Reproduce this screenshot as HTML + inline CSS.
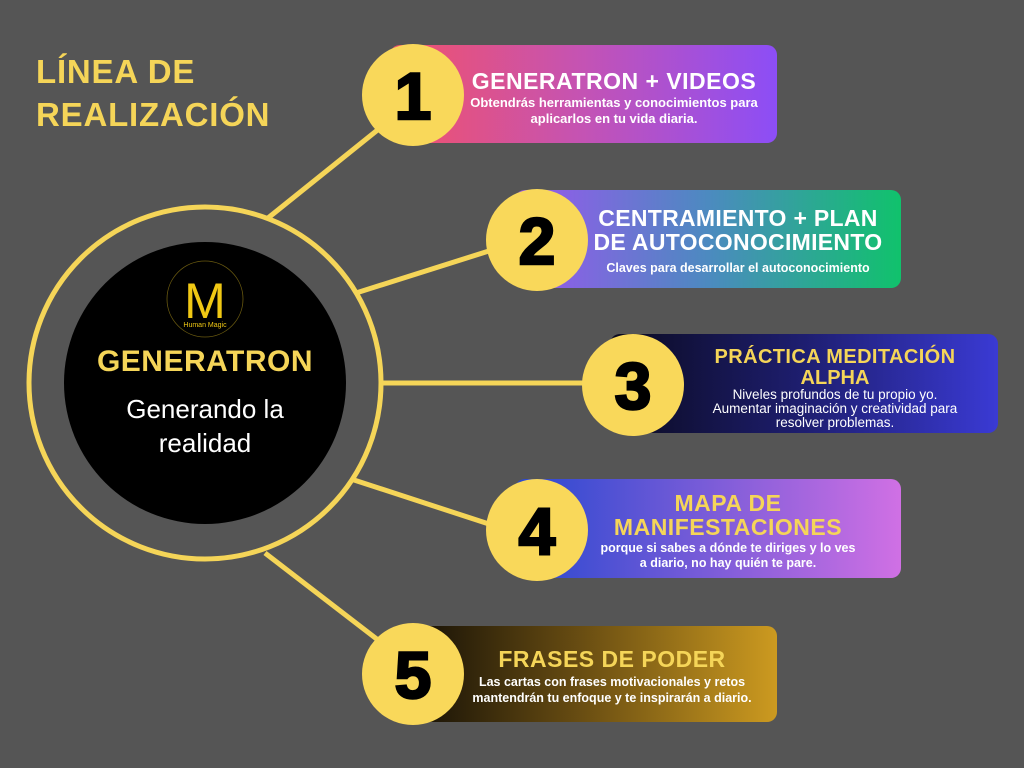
<!DOCTYPE html>
<html><head><meta charset="utf-8"><style>
html,body{margin:0;padding:0;background:#555555;}
svg{display:block;}
text{font-family:"Liberation Sans",sans-serif;}
</style></head><body>
<svg width="1024" height="768" viewBox="0 0 1024 768" xmlns="http://www.w3.org/2000/svg">
<defs>
<linearGradient id="g1" x1="0" x2="1"><stop offset="0" stop-color="#f2526a"/><stop offset="0.5" stop-color="#c453b4"/><stop offset="1" stop-color="#8c4ef6"/></linearGradient>
<linearGradient id="g2" x1="0" x2="1"><stop offset="0" stop-color="#9b55ef"/><stop offset="0.5" stop-color="#4c8ac0"/><stop offset="1" stop-color="#10c26c"/></linearGradient>
<linearGradient id="g3" x1="0" x2="1"><stop offset="0" stop-color="#0a0a1e"/><stop offset="0.5" stop-color="#1e1e70"/><stop offset="1" stop-color="#3a3ad4"/></linearGradient>
<linearGradient id="g4" x1="0" x2="1"><stop offset="0" stop-color="#2848d0"/><stop offset="0.5" stop-color="#7a5cd8"/><stop offset="1" stop-color="#d070e4"/></linearGradient>
<linearGradient id="g5" x1="0" x2="1"><stop offset="0" stop-color="#0a0805"/><stop offset="0.5" stop-color="#6a4e12"/><stop offset="1" stop-color="#cc9a20"/></linearGradient>
</defs>
<rect width="1024" height="768" fill="#555555"/>
<text x="36" y="83" font-size="33" font-weight="bold" fill="#f5d558" letter-spacing="0.8">LÍNEA DE</text>
<text x="36" y="126" font-size="33" font-weight="bold" fill="#f5d558" letter-spacing="0.8">REALIZACIÓN</text>

<g stroke="#f5d558" stroke-width="5" fill="none">
<line x1="268" y1="218" x2="380" y2="128"/>
<line x1="356" y1="293" x2="492" y2="250"/>
<line x1="380" y1="383" x2="590" y2="383"/>
<line x1="354" y1="480" x2="492" y2="525"/>
<line x1="265" y1="553" x2="378" y2="640"/>
<circle cx="205" cy="383" r="176"/>
</g>
<circle cx="205" cy="383" r="141" fill="#000"/>
<circle cx="205" cy="299" r="38" fill="#000" stroke="#6a5a10" stroke-width="0.8"/>
<text x="205" y="318" font-size="50" fill="#f0c814" text-anchor="middle" font-family="Liberation Serif">M</text>
<text x="205" y="327" font-size="7" fill="#f0c814" text-anchor="middle" font-family="Liberation Serif">Human Magic</text>
<text x="205" y="371" font-size="30" font-weight="bold" fill="#f5d558" text-anchor="middle" letter-spacing="0.5">GENERATRON</text>
<text x="205" y="418" font-size="26" fill="#fff" text-anchor="middle">Generando la</text>
<text x="205" y="452" font-size="26" fill="#fff" text-anchor="middle">realidad</text>

<rect x="390" y="45" width="387" height="98" rx="10" fill="url(#g1)"/>
<rect x="515" y="190" width="386" height="98" rx="10" fill="url(#g2)"/>
<rect x="610" y="334" width="388" height="99" rx="10" fill="url(#g3)"/>
<rect x="515" y="479" width="386" height="99" rx="10" fill="url(#g4)"/>
<rect x="390" y="626" width="387" height="96" rx="10" fill="url(#g5)"/>

<g fill="#f9d85a">
<circle cx="413" cy="95" r="51"/><circle cx="537" cy="240" r="51"/><circle cx="633" cy="385" r="51"/><circle cx="537" cy="530" r="51"/><circle cx="413" cy="674" r="51"/>
</g>
<g font-size="66" font-weight="bold" fill="#000" text-anchor="middle" stroke="#000" stroke-width="2.5">
<text x="413" y="119">1</text><text x="537" y="264">2</text><text x="633" y="409">3</text><text x="537" y="554">4</text><text x="413" y="698">5</text>
</g>

<g text-anchor="middle">
<text x="614" y="89" font-size="23" font-weight="bold" fill="#fff" letter-spacing="0.5">GENERATRON + VIDEOS</text>
<text x="614" y="107" font-size="13" font-weight="bold" fill="#fff">Obtendrás herramientas y conocimientos para</text>
<text x="614" y="123" font-size="13" font-weight="bold" fill="#fff">aplicarlos en tu vida diaria.</text>

<text x="738" y="226" font-size="23" font-weight="bold" fill="#fff" letter-spacing="0.3">CENTRAMIENTO + PLAN</text>
<text x="738" y="250" font-size="23" font-weight="bold" fill="#fff" letter-spacing="0.3">DE AUTOCONOCIMIENTO</text>
<text x="738" y="272" font-size="12.5" font-weight="bold" fill="#fff">Claves para desarrollar el autoconocimiento</text>

<text x="835" y="363" font-size="20" font-weight="bold" fill="#f5d558" letter-spacing="0.4">PRÁCTICA MEDITACIÓN</text>
<text x="835" y="384" font-size="20" font-weight="bold" fill="#f5d558">ALPHA</text>
<text x="835" y="399" font-size="13.5" fill="#fff">Niveles profundos de tu propio yo.</text>
<text x="835" y="413" font-size="13.5" fill="#fff">Aumentar imaginación y creatividad para</text>
<text x="835" y="427" font-size="13.5" fill="#fff">resolver problemas.</text>

<text x="728" y="511" font-size="23" font-weight="bold" fill="#f5d558" letter-spacing="0.5">MAPA DE</text>
<text x="728" y="535" font-size="23" font-weight="bold" fill="#f5d558" letter-spacing="0.5">MANIFESTACIONES</text>
<text x="728" y="552" font-size="12.5" font-weight="bold" fill="#fff">porque si sabes a dónde te diriges y lo ves</text>
<text x="728" y="567" font-size="12.5" font-weight="bold" fill="#fff">a diario, no hay quién te pare.</text>

<text x="612" y="667" font-size="23" font-weight="bold" fill="#f5d558" letter-spacing="0.5">FRASES DE PODER</text>
<text x="612" y="686" font-size="12.5" font-weight="bold" fill="#fff">Las cartas con frases motivacionales y retos</text>
<text x="612" y="702" font-size="12.5" font-weight="bold" fill="#fff">mantendrán tu enfoque y te inspirarán a diario.</text>
</g>
</svg>
</body></html>
